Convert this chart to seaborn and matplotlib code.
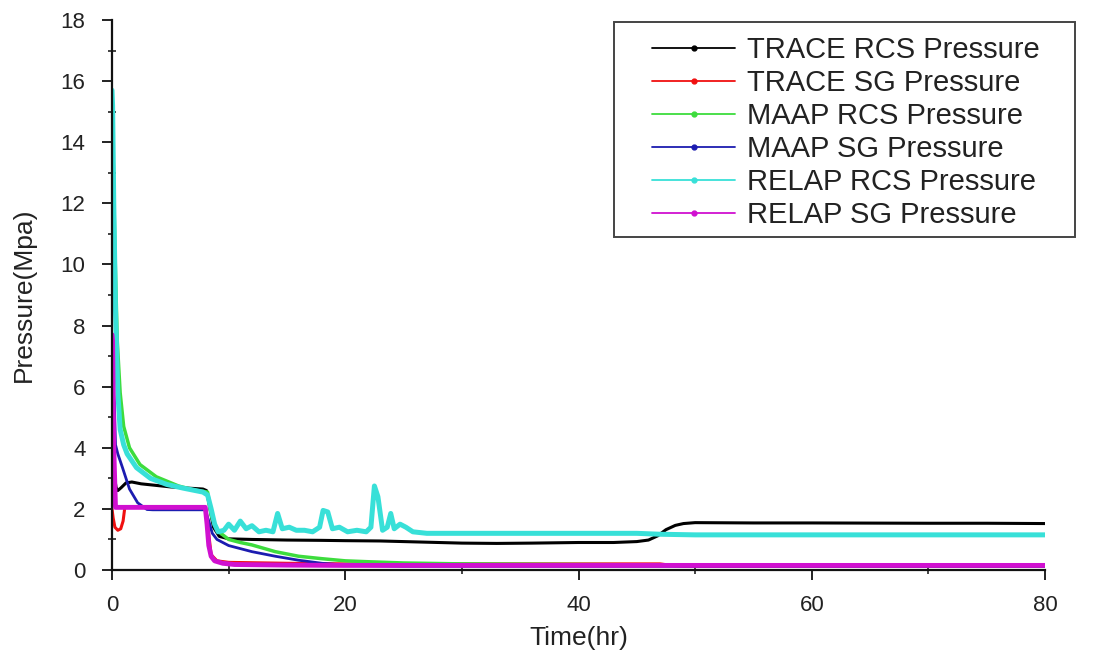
import numpy as np
import pandas as pd
import matplotlib
matplotlib.use("Agg")
import matplotlib.pyplot as plt
from matplotlib.lines import Line2D
from matplotlib.patches import Rectangle
from matplotlib.ticker import MultipleLocator
import seaborn as sns

# ---------------- data ----------------
trace_rcs_t = [0, 0.15, 0.35, 0.5, 0.8, 1.2, 1.7, 2.5, 3.5, 5, 6.5, 7.8, 8.1, 8.4, 8.7, 9.2, 10, 12, 15,
               18, 20, 23, 26, 30, 33, 36, 40, 43, 45, 46, 46.8, 47.5, 48.3, 49, 50, 55, 60, 70, 75, 80]
trace_rcs_p = [4.0, 3.2, 2.7, 2.6, 2.7, 2.85, 2.88, 2.82, 2.78, 2.72, 2.68, 2.65, 2.6, 2.0, 1.4, 1.1, 1.02,
               1.0, 0.98, 0.97, 0.96, 0.95, 0.92, 0.88, 0.87, 0.88, 0.9, 0.9, 0.93, 0.98, 1.12, 1.32, 1.46,
               1.52, 1.55, 1.54, 1.54, 1.53, 1.53, 1.52]

trace_sg_t = [0, 0.1, 0.25, 0.5, 0.75, 0.95, 1.1, 1.5, 4, 8.0, 8.2, 8.5, 9, 10, 15, 20, 30, 40, 47, 48, 49, 80]
trace_sg_p = [2.0, 1.7, 1.4, 1.3, 1.35, 1.6, 2.05, 2.05, 2.05, 2.05, 1.5, 0.5, 0.3, 0.25, 0.22, 0.2, 0.2,
              0.2, 0.2, 0.15, 0.12, 0.12]

maap_rcs_t = [0, 0.1, 0.25, 0.45, 0.7, 1.0, 1.5, 2.4, 3.8, 5.7, 7, 8.2, 8.5, 9, 10, 11, 12, 14, 16, 18,
              20, 22, 25, 30, 40, 50, 60, 80]
maap_rcs_p = [15.0, 13.5, 10.5, 7.5, 5.8, 4.7, 4.0, 3.45, 3.05, 2.75, 2.62, 2.55, 1.8, 1.3, 1.0, 0.9, 0.82,
              0.6, 0.45, 0.37, 0.3, 0.27, 0.23, 0.2, 0.18, 0.16, 0.15, 0.15]

maap_sg_t = [0, 0.1, 0.2, 0.3, 0.5, 0.9, 1.5, 2.2, 3.0, 3.5, 5, 8.0, 8.3, 8.6, 9.0, 10, 11, 12, 14, 16,
             18, 20, 22, 25, 30, 80]
maap_sg_p = [6.0, 6.0, 5.5, 4.1, 3.8, 3.35, 2.65, 2.2, 1.98, 1.97, 1.97, 1.97, 1.6, 1.2, 1.0, 0.8, 0.7,
             0.6, 0.45, 0.32, 0.22, 0.16, 0.14, 0.12, 0.12, 0.12]

relap_rcs_t = [0, 0.05, 0.15, 0.3, 0.5, 0.7, 1.0, 1.3, 2.1, 3.3, 4.7, 6.1, 7.8, 8.2, 8.5, 8.8, 9.1, 9.6,
               10.0, 10.5, 11.0, 11.5, 12.0, 12.6, 13.2, 13.8, 14.2, 14.6, 15.2, 15.8, 16.5, 17.2, 17.8,
               18.1, 18.5, 18.9, 19.5, 20.2, 21.0, 21.8, 22.2, 22.5, 22.8, 23.2, 23.6, 23.9, 24.2, 24.7,
               25.2, 25.8, 27, 30, 35, 40, 45, 47, 50, 60, 70, 80]
relap_rcs_p = [15.7, 15.2, 12.0, 8.5, 5.8, 4.6, 4.1, 3.8, 3.35, 3.0, 2.8, 2.68, 2.55, 2.45, 2.0, 1.5,
               1.25, 1.3, 1.5, 1.3, 1.6, 1.35, 1.45, 1.25, 1.3, 1.25, 1.85, 1.35, 1.4, 1.3, 1.3, 1.25,
               1.4, 1.95, 1.9, 1.35, 1.4, 1.25, 1.3, 1.25, 1.4, 2.75, 2.4, 1.3, 1.4, 1.85, 1.35, 1.5,
               1.4, 1.25, 1.2, 1.2, 1.2, 1.2, 1.2, 1.17, 1.15, 1.15, 1.15, 1.15]

relap_sg_t = [0, 0.05, 0.15, 0.3, 1, 4, 8.0, 8.15, 8.3, 8.5, 8.8, 9.5, 10.5, 15, 20, 30, 50, 80]
relap_sg_p = [7.7, 7.5, 4.0, 2.05, 2.05, 2.05, 2.05, 1.5, 0.8, 0.45, 0.3, 0.22, 0.18, 0.16, 0.15, 0.15,
              0.15, 0.15]

labels = ["TRACE RCS Pressure", "TRACE SG Pressure", "MAAP RCS Pressure",
          "MAAP SG Pressure", "RELAP RCS Pressure", "RELAP SG Pressure"]
x_ticks = [0, 20, 40, 60, 80]
y_ticks = [0, 2, 4, 6, 8, 10, 12, 14, 16, 18]

# ---------------- styling ----------------
sns.set_theme(style="ticks")
plt.rcParams["font.family"] = ["Liberation Sans", "DejaVu Sans"]

series = [
    (trace_rcs_t, trace_rcs_p, "#000000", 2.2),
    (trace_sg_t, trace_sg_p, "#f01010", 2.2),
    (maap_rcs_t, maap_rcs_p, "#3ddc3d", 2.5),
    (maap_sg_t, maap_sg_p, "#1c1cb0", 2.0),
    (relap_rcs_t, relap_rcs_p, "#38e0d8", 3.6),
    (relap_sg_t, relap_sg_p, "#d010d0", 3.5),
]

W, H = 1110, 660
fig = plt.figure(figsize=(W / 100, H / 100), dpi=100)
ax = fig.add_axes([112 / W, 1 - 570 / H, (1045 - 112) / W, (570 - 20) / H])

for (t, p, c, lw), lab in zip(series, labels):
    df = pd.DataFrame({"t": t, "p": p})
    sns.lineplot(data=df, x="t", y="p", ax=ax, color=c, linewidth=lw,
                 sort=False, estimator=None, legend=False)

ax.set_xlim(0, 80)
ax.set_ylim(0, 18)
ax.set_xticks(x_ticks)
ax.set_yticks(y_ticks)
ax.xaxis.set_minor_locator(MultipleLocator(10))
ax.yaxis.set_minor_locator(MultipleLocator(1))
ax.tick_params(which="major", direction="out", length=7, width=1.4, colors="#222222",
               labelsize=16, labelcolor="#222222")
ax.tick_params(axis="x", which="major", pad=11)
ax.tick_params(axis="y", which="major", pad=12)
ax.tick_params(which="minor", direction="inout", length=6, width=1.2, colors="#222222")
for side in ("top", "right"):
    ax.spines[side].set_visible(False)
for side in ("left", "bottom"):
    ax.spines[side].set_color("#111111")
    ax.spines[side].set_linewidth(1.6)

ax.set_xlabel("Time(hr)", fontsize=19, color="#222222", labelpad=7)
ax.set_ylabel("Pressure(Mpa)", fontsize=19, color="#222222", labelpad=18)

# legend frame drawn as a plain rectangle in figure pixels
frame = Rectangle((614 / W, 1 - 237 / H), (1075 - 614) / W, (237 - 22) / H,
                  transform=fig.transFigure, fill=False, edgecolor="#444444", linewidth=1.4,
                  zorder=5)
fig.patches.append(frame)

handles = [Line2D([0], [0], color=c, lw=1.3, marker="o", markersize=3.5)
           for (_, _, c, _) in series]
leg = fig.legend(handles, labels, loc="upper left", bbox_to_anchor=(652 / W, 1 - 36 / H),
                 fontsize=21, frameon=False, handlelength=2.85, handletextpad=0.4,
                 labelspacing=0.17, borderpad=0, borderaxespad=0)
for txt in leg.get_texts():
    txt.set_color("#222222")

fig.savefig("out.png", dpi=100)
